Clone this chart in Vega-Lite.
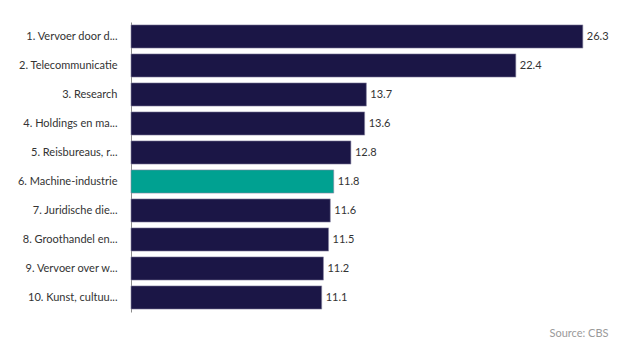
{
  "$schema": "https://vega.github.io/schema/vega-lite/v6.json",
  "width": 469,
  "height": 290,
  "autosize": "none",
  "padding": {"left": 131, "top": 22, "right": 26, "bottom": 42},
  "background": "white",
  "config": {"view": {"stroke": null}, "font": "Lato"},
  "title": {"text": "Source: CBS", "orient": "bottom", "anchor": "end", "fontSize": 11, "fontWeight": "normal", "color": "#9a9a9a", "offset": 16, "font": "Lato"},
  "data": {"values": [
    {"sector": "1. Vervoer door d...", "value": 26.3, "hl": "no"},
    {"sector": "2. Telecommunicatie", "value": 22.4, "hl": "no"},
    {"sector": "3. Research", "value": 13.7, "hl": "no"},
    {"sector": "4. Holdings en ma...", "value": 13.6, "hl": "no"},
    {"sector": "5. Reisbureaus, r...", "value": 12.8, "hl": "no"},
    {"sector": "6. Machine-industrie", "value": 11.8, "hl": "yes"},
    {"sector": "7. Juridische die...", "value": 11.6, "hl": "no"},
    {"sector": "8. Groothandel en...", "value": 11.5, "hl": "no"},
    {"sector": "9. Vervoer over w...", "value": 11.2, "hl": "no"},
    {"sector": "10. Kunst, cultuu...", "value": 11.1, "hl": "no"}
  ]},
  "encoding": {
    "y": {"field": "sector", "type": "nominal", "sort": null,
      "scale": {"paddingInner": 0.2, "paddingOuter": 0.1},
      "axis": {"title": null, "ticks": false, "domain": true, "domainColor": "#8c8c8c", "domainWidth": 1, "labelPadding": 14, "labelFontSize": 11, "labelColor": "#333333", "labelLimit": 200}},
    "x": {"field": "value", "type": "quantitative", "scale": {"domain": [0, 27.3], "nice": false}, "axis": null}
  },
  "layer": [
    {"mark": {"type": "bar", "stroke": "#8a87a3", "strokeWidth": 0.6},
      "encoding": {"color": {"field": "hl", "type": "nominal", "scale": {"domain": ["no", "yes"], "range": ["#1b1646", "#00a191"]}, "legend": null}}},
    {"mark": {"type": "text", "align": "left", "dx": 4, "fontSize": 11, "color": "#333333"},
      "encoding": {"text": {"field": "value", "type": "quantitative", "format": ".1f"}}}
  ]
}
